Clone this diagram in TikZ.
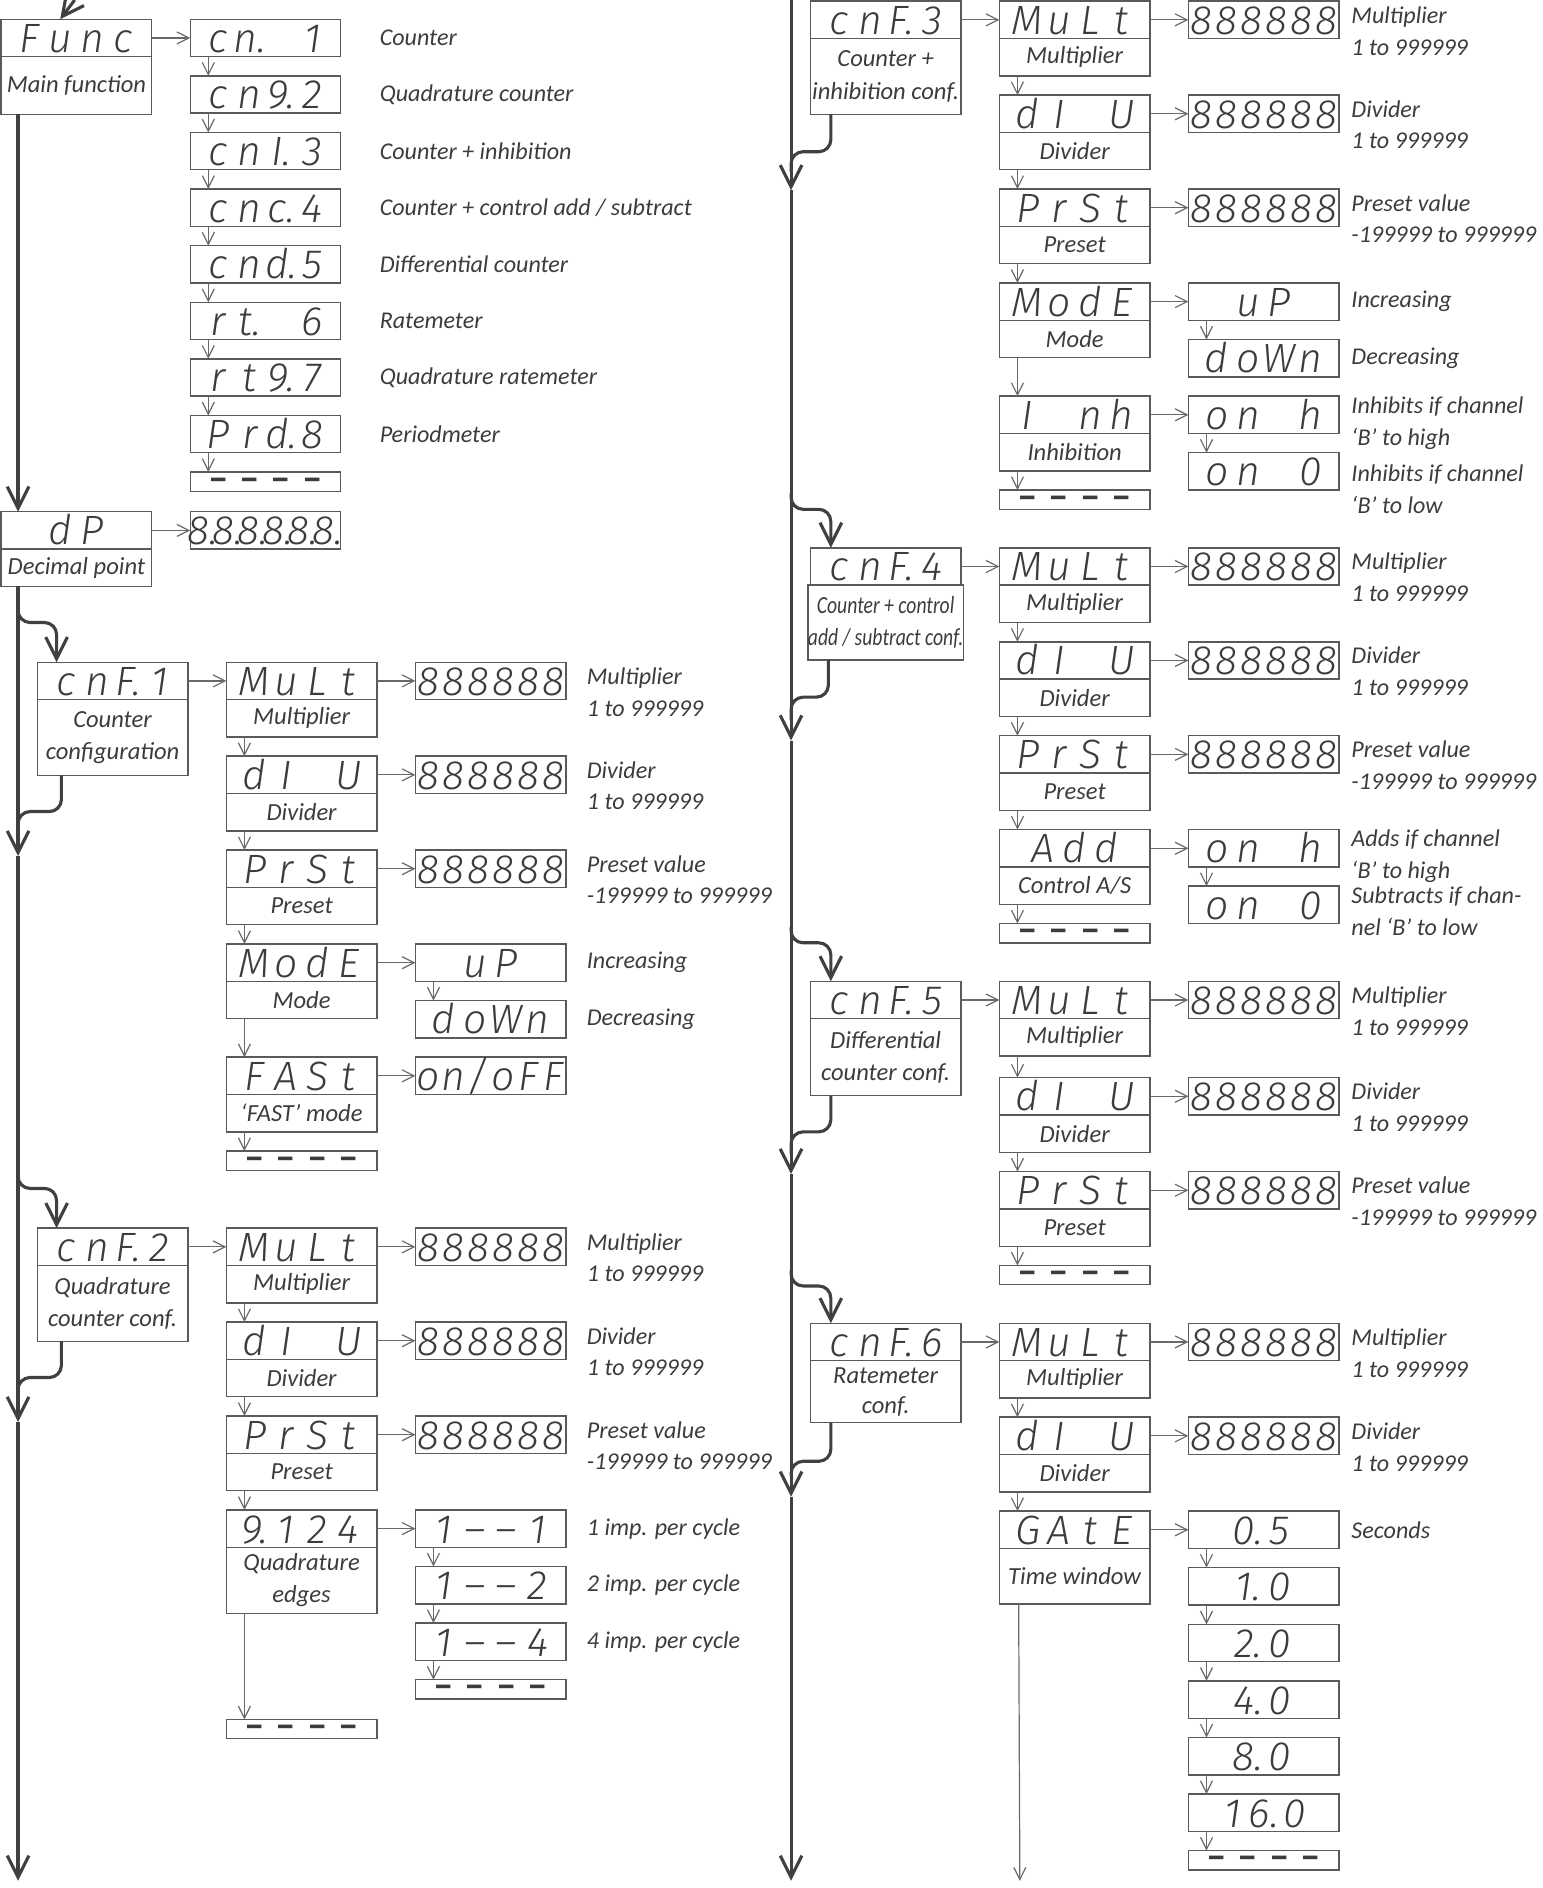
\documentclass[tikz,border=0pt]{standalone}
\usepackage{fontspec}
\usetikzlibrary{positioning, arrows.meta}
\newfontfamily\lblfont{Carlito}
\newfontfamily\lblnarrow[FakeStretch=0.8]{Carlito}
\newfontfamily\segfont{Fira Sans Light Italic}
\definecolor{boxline}{RGB}{90,90,90}
\definecolor{txtgray}{RGB}{60,60,60}
\definecolor{spinegray}{RGB}{64,64,64}
\definecolor{arrgray}{RGB}{105,105,105}
% display digits, one cell per character
\newcommand{\seg}[2][13pt]{\raisebox{0pt}[12pt][0pt]{\foreach \ch in {#2}{\makebox[#1][c]{\ch}}}}
\newcommand{\dashes}{\raisebox{-2.5pt}[3pt][0pt]{\lblfont\bfseries\foreach \ch in {1,2,3,4}{\makebox[13pt][c]{–}}}}

\begin{document}
\begin{tikzpicture}[x=0.5pt, y=-0.5pt,
    disp/.style={rectangle, draw=boxline, line width=0.6pt, outer sep=0pt, minimum width=62.5pt, minimum height=15.5pt, inner sep=0pt, text=txtgray, font=\segfont\fontsize{17}{17}\selectfont},
    lbl/.style={rectangle, draw=boxline, line width=0.6pt, outer sep=0pt, minimum width=62.5pt, minimum height=#1, inner sep=0pt, align=center, text=txtgray, font=\lblfont\itshape\fontsize{10.2}{13.4}\selectfont},
    lbl/.default=15.5pt,
    endbox/.style={disp, minimum height=8pt},
    desc/.style={inner sep=0pt, align=left, text=txtgray, font=\lblfont\itshape\fontsize{10}{13.2}\selectfont},
    desctwo/.style={desc, anchor=north west, yshift=-2pt},
    arr/.style={-{Straight Barb[length=5pt, width=5pt]}, arrgray, line width=0.5pt},
    spine/.style={-{Straight Barb[length=9pt, width=9pt]}, spinegray, line width=1.3pt},
    branch/.style={spine, rounded corners=5pt},
    merge/.style={spinegray, line width=1.3pt, rounded corners=5pt}
  ]
  \useasboundingbox (0,0) rectangle (1281,1568);

  % ---- main function
  \node[disp, anchor=north west] (func) at (1,16) {\seg{F,u,n,c}};
  \node[lbl=24pt, below=0pt of func] (funcl) {Main function};
  \node[disp, right=16pt of func] (fn1) {\seg{c,n.,~,1}};
  \node[disp, below=8pt of fn1] (fn2) {\seg{c,n,9.,2}};
  \node[disp, below=8pt of fn2] (fn3) {\seg{c,n,I.,3}};
  \node[disp, below=8pt of fn3] (fn4) {\seg{c,n,c.,4}};
  \node[disp, below=8pt of fn4] (fn5) {\seg{c,n,d.,5}};
  \node[disp, below=8pt of fn5] (fn6) {\seg{r,t.,~,6}};
  \node[disp, below=8pt of fn6] (fn7) {\seg{r,t,9.,7}};
  \node[disp, below=8pt of fn7] (fn8) {\seg{P,r,d.,8}};
  \node[endbox, below=8pt of fn8] (fnend) {\dashes};
  \node[desc, right=16pt of fn1] {Counter};
  \node[desc, right=16pt of fn2] {Quadrature counter};
  \node[desc, right=16pt of fn3] {Counter + inhibition};
  \node[desc, right=16pt of fn4] {Counter + control add / subtract};
  \node[desc, right=16pt of fn5] {Differential counter};
  \node[desc, right=16pt of fn6] {Ratemeter};
  \node[desc, right=16pt of fn7] {Quadrature ratemeter};
  \node[desc, right=16pt of fn8] {Periodmeter};

  % ---- decimal point
  \node[disp, anchor=north west] (dp) at (1,425) {\seg{~,d,P,~}};
  \node[lbl, below=0pt of dp] (dpl) {Decimal point};
  \node[disp, right=16pt of dp] (dpv) {\seg[10.4pt]{8.,8.,8.,8.,8.,8.}};

  % ---- cnF.1 counter
  \node[disp, anchor=north west] (c1) at (31,550) {\seg{c,n,F.,1}};
  \node[lbl=31.5pt, below=0pt of c1] (c1l) {Counter\\configuration};
  \node[disp, right=16pt of c1] (c1mul) {\seg{M,u,L,t}};
  \node[lbl, below=0pt of c1mul] (c1mull) {Multiplier};
  \node[disp, right=16pt of c1mul] (c1mulv) {\seg[10.4pt]{8,8,8,8,8,8}};
  \node[right=8.5pt of c1mulv.north east, desctwo] {Multiplier\\1 to 999999};
  \node[disp, below=8pt of c1mull] (c1div) {\seg{d,I,~,U}};
  \node[lbl, below=0pt of c1div] (c1divl) {Divider};
  \node[disp, right=16pt of c1div] (c1divv) {\seg[10.4pt]{8,8,8,8,8,8}};
  \node[right=8.5pt of c1divv.north east, desctwo] {Divider\\1 to 999999};
  \node[disp, below=8pt of c1divl] (c1pre) {\seg{P,r,S,t}};
  \node[lbl, below=0pt of c1pre] (c1prel) {Preset};
  \node[disp, right=16pt of c1pre] (c1prev) {\seg[10.4pt]{8,8,8,8,8,8}};
  \node[right=8.5pt of c1prev.north east, desctwo] {Preset value\\-199999 to 999999};
  \node[disp, below=8pt of c1prel] (c1mode) {\seg{M,o,d,E}};
  \node[lbl, below=0pt of c1mode] (c1model) {Mode};
  \node[disp, right=16pt of c1mode] (c1up) {\seg{~,u,P,~}};
  \node[disp, below=8pt of c1up] (c1down) {\seg{d,o,W,n}};
  \node[desc, right=8.5pt of c1up] {Increasing};
  \node[desc, right=8.5pt of c1down] {Decreasing};
  \node[disp, below=16pt of c1model] (c1fast) {\seg{F,A,S,t}};
  \node[lbl, below=0pt of c1fast] (c1fastl) {‘FAST’ mode};
  \node[disp, right=16pt of c1fast] (c1onoff) {\seg[10.4pt]{o,n,{/},o,F,F}};
  \node[endbox, below=8pt of c1fastl] (c1end) {\dashes};

  % ---- cnF.2 quadrature counter
  \node[disp, anchor=north west] (c2) at (31,1020) {\seg{c,n,F.,2}};
  \node[lbl=31.5pt, below=0pt of c2] (c2l) {Quadrature\\counter conf.};
  \node[disp, right=16pt of c2] (c2mul) {\seg{M,u,L,t}};
  \node[lbl, below=0pt of c2mul] (c2mull) {Multiplier};
  \node[disp, right=16pt of c2mul] (c2mulv) {\seg[10.4pt]{8,8,8,8,8,8}};
  \node[right=8.5pt of c2mulv.north east, desctwo] {Multiplier\\1 to 999999};
  \node[disp, below=8pt of c2mull] (c2div) {\seg{d,I,~,U}};
  \node[lbl, below=0pt of c2div] (c2divl) {Divider};
  \node[disp, right=16pt of c2div] (c2divv) {\seg[10.4pt]{8,8,8,8,8,8}};
  \node[right=8.5pt of c2divv.north east, desctwo] {Divider\\1 to 999999};
  \node[disp, below=8pt of c2divl] (c2pre) {\seg{P,r,S,t}};
  \node[lbl, below=0pt of c2pre] (c2prel) {Preset};
  \node[disp, right=16pt of c2pre] (c2prev) {\seg[10.4pt]{8,8,8,8,8,8}};
  \node[right=8.5pt of c2prev.north east, desctwo] {Preset value\\-199999 to 999999};
  \node[disp, below=8pt of c2prel] (c2edge) {\seg{9.,1,2,4}};
  \node[lbl=27.5pt, below=0pt of c2edge] (c2edgel) {Quadrature\\edges};
  \node[disp, right=16pt of c2edge] (c2e1) {\seg{1,–,–,1}};
  \node[disp, below=8pt of c2e1] (c2e2) {\seg{1,–,–,2}};
  \node[disp, below=8pt of c2e2] (c2e4) {\seg{1,–,–,4}};
  \node[endbox, below=8pt of c2e4] (c2eend) {\dashes};
  \node[desc, right=8.5pt of c2e1] {1 imp. per cycle};
  \node[desc, right=8.5pt of c2e2] {2 imp. per cycle};
  \node[desc, right=8.5pt of c2e4] {4 imp. per cycle};
  \node[endbox, below=44pt of c2edgel] (c2end) {\dashes};

  % ---- cnF.3 counter + inhibition
  \node[disp, anchor=north west] (c3) at (673,1) {\seg{c,n,F.,3}};
  \node[lbl=31.5pt, below=0pt of c3] (c3l) {Counter +\\inhibition conf.};
  \node[disp, right=16pt of c3] (c3mul) {\seg{M,u,L,t}};
  \node[lbl, below=0pt of c3mul] (c3mull) {Multiplier};
  \node[disp, right=16pt of c3mul] (c3mulv) {\seg[10.4pt]{8,8,8,8,8,8}};
  \node[right=5pt of c3mulv.north east, desctwo] {Multiplier\\1 to 999999};
  \node[disp, below=8pt of c3mull] (c3div) {\seg{d,I,~,U}};
  \node[lbl, below=0pt of c3div] (c3divl) {Divider};
  \node[disp, right=16pt of c3div] (c3divv) {\seg[10.4pt]{8,8,8,8,8,8}};
  \node[right=5pt of c3divv.north east, desctwo] {Divider\\1 to 999999};
  \node[disp, below=8pt of c3divl] (c3pre) {\seg{P,r,S,t}};
  \node[lbl, below=0pt of c3pre] (c3prel) {Preset};
  \node[disp, right=16pt of c3pre] (c3prev) {\seg[10.4pt]{8,8,8,8,8,8}};
  \node[right=5pt of c3prev.north east, desctwo] {Preset value\\-199999 to 999999};
  \node[disp, below=8pt of c3prel] (c3mode) {\seg{M,o,d,E}};
  \node[lbl, below=0pt of c3mode] (c3model) {Mode};
  \node[disp, right=16pt of c3mode] (c3up) {\seg{~,u,P,~}};
  \node[disp, below=8pt of c3up] (c3down) {\seg{d,o,W,n}};
  \node[desc, right=5pt of c3up] {Increasing};
  \node[desc, right=5pt of c3down] {Decreasing};
  \node[disp, below=16pt of c3model] (c3inh) {\seg{I,~,n,h}};
  \node[lbl, below=0pt of c3inh] (c3inhl) {Inhibition};
  \node[disp, right=16pt of c3inh] (c3onh) {\seg{o,n,~,h}};
  \node[disp, below=8pt of c3onh] (c3on0) {\seg{o,n,~,0}};
  \node[right=5pt of c3onh.north east, desctwo, yshift=2pt] {Inhibits if channel\\‘B’ to high};
  \node[right=5pt of c3on0.north east, desctwo, yshift=-3pt] {Inhibits if channel\\‘B’ to low};
  \node[endbox, below=8pt of c3inhl] (c3end) {\dashes};

  % ---- cnF.4 counter + control add / subtract
  \node[disp, anchor=north west] (c4) at (673,455) {\seg{c,n,F.,4}};
  \node[lbl=31pt, below=0pt of c4, font=\lblnarrow\itshape\fontsize{10.2}{13.4}\selectfont] (c4l) {Counter + control\\add / subtract conf.};
  \node[disp, right=16pt of c4] (c4mul) {\seg{M,u,L,t}};
  \node[lbl, below=0pt of c4mul] (c4mull) {Multiplier};
  \node[disp, right=16pt of c4mul] (c4mulv) {\seg[10.4pt]{8,8,8,8,8,8}};
  \node[right=5pt of c4mulv.north east, desctwo] {Multiplier\\1 to 999999};
  \node[disp, below=8pt of c4mull] (c4div) {\seg{d,I,~,U}};
  \node[lbl, below=0pt of c4div] (c4divl) {Divider};
  \node[disp, right=16pt of c4div] (c4divv) {\seg[10.4pt]{8,8,8,8,8,8}};
  \node[right=5pt of c4divv.north east, desctwo] {Divider\\1 to 999999};
  \node[disp, below=8pt of c4divl] (c4pre) {\seg{P,r,S,t}};
  \node[lbl, below=0pt of c4pre] (c4prel) {Preset};
  \node[disp, right=16pt of c4pre] (c4prev) {\seg[10.4pt]{8,8,8,8,8,8}};
  \node[right=5pt of c4prev.north east, desctwo] {Preset value\\-199999 to 999999};
  \node[disp, below=8pt of c4prel] (c4add) {\seg{A,d,d}};
  \node[lbl, below=0pt of c4add] (c4addl) {Control A/S};
  \node[disp, right=16pt of c4add] (c4onh) {\seg{o,n,~,h}};
  \node[disp, below=8pt of c4onh] (c4on0) {\seg{o,n,~,0}};
  \node[right=5pt of c4onh.north east, desctwo, yshift=2pt] {Adds if channel\\‘B’ to high};
  \node[right=5pt of c4on0.north east, desctwo, yshift=2pt] {Subtracts if chan-\\nel ‘B’ to low};
  \node[endbox, below=8pt of c4addl] (c4end) {\dashes};

  % ---- cnF.5 differential counter
  \node[disp, anchor=north west] (c5) at (673,815) {\seg{c,n,F.,5}};
  \node[lbl=32pt, below=0pt of c5] (c5l) {Differential\\counter conf.};
  \node[disp, right=16pt of c5] (c5mul) {\seg{M,u,L,t}};
  \node[lbl, below=0pt of c5mul] (c5mull) {Multiplier};
  \node[disp, right=16pt of c5mul] (c5mulv) {\seg[10.4pt]{8,8,8,8,8,8}};
  \node[right=5pt of c5mulv.north east, desctwo] {Multiplier\\1 to 999999};
  \node[disp, below=9pt of c5mull] (c5div) {\seg{d,I,~,U}};
  \node[lbl, below=0pt of c5div] (c5divl) {Divider};
  \node[disp, right=16pt of c5div] (c5divv) {\seg[10.4pt]{8,8,8,8,8,8}};
  \node[right=5pt of c5divv.north east, desctwo] {Divider\\1 to 999999};
  \node[disp, below=8pt of c5divl] (c5pre) {\seg{P,r,S,t}};
  \node[lbl, below=0pt of c5pre] (c5prel) {Preset};
  \node[disp, right=16pt of c5pre] (c5prev) {\seg[10.4pt]{8,8,8,8,8,8}};
  \node[right=5pt of c5prev.north east, desctwo] {Preset value\\-199999 to 999999};
  \node[endbox, below=8pt of c5prel] (c5end) {\dashes};

  % ---- cnF.6 ratemeter
  \node[disp, anchor=north west] (c6) at (673,1099) {\seg{c,n,F.,6}};
  \node[lbl=23pt, below=0pt of c6] (c6l) {\raisebox{-3pt}{\begin{tabular}{@{}c@{}}Ratemeter\\[-1pt]conf.\end{tabular}}};
  \node[disp, right=16pt of c6] (c6mul) {\seg{M,u,L,t}};
  \node[lbl, below=0pt of c6mul] (c6mull) {Multiplier};
  \node[disp, right=16pt of c6mul] (c6mulv) {\seg[10.4pt]{8,8,8,8,8,8}};
  \node[right=5pt of c6mulv.north east, desctwo] {Multiplier\\1 to 999999};
  \node[disp, below=8pt of c6mull] (c6div) {\seg{d,I,~,U}};
  \node[lbl, below=0pt of c6div] (c6divl) {Divider};
  \node[disp, right=16pt of c6div] (c6divv) {\seg[10.4pt]{8,8,8,8,8,8}};
  \node[right=5pt of c6divv.north east, desctwo] {Divider\\1 to 999999};
  \node[disp, below=8pt of c6divl] (c6gate) {\seg{G,A,t,E}};
  \node[lbl=23pt, below=0pt of c6gate] (c6gatel) {Time window};
  \node[disp, right=16pt of c6gate] (g05) {\seg{0.,5}};
  \node[disp, below=8pt of g05] (g10) {\seg{1.,0}};
  \node[disp, below=8pt of g10] (g20) {\seg{2.,0}};
  \node[disp, below=8pt of g20] (g40) {\seg{4.,0}};
  \node[disp, below=8pt of g40] (g80) {\seg{8.,0}};
  \node[disp, below=8pt of g80] (g160) {\seg{1,6.,0}};
  \node[endbox, below=8pt of g160] (gend) {\dashes};
  \node[desc, right=5pt of g05] {Seconds};

  % ---- thin arrows
  \foreach \a/\b in {func/fn1, dp/dpv, c1/c1mul, c1mul/c1mulv, c1div/c1divv, c1pre/c1prev, c1mode/c1up, c1fast/c1onoff,
      c2/c2mul, c2mul/c2mulv, c2div/c2divv, c2pre/c2prev, c2edge/c2e1,
      c3/c3mul, c3mul/c3mulv, c3div/c3divv, c3pre/c3prev, c3mode/c3up, c3inh/c3onh,
      c4/c4mul, c4mul/c4mulv, c4div/c4divv, c4pre/c4prev, c4add/c4onh,
      c5/c5mul, c5mul/c5mulv, c5div/c5divv, c5pre/c5prev,
      c6/c6mul, c6mul/c6mulv, c6div/c6divv, c6gate/g05}
    \draw[arr] (\a) -- (\b);
  \foreach \a/\b in {fn1/fn2, fn2/fn3, fn3/fn4, fn4/fn5, fn5/fn6, fn6/fn7, fn7/fn8, fn8/fnend,
      c1mull/c1div, c1divl/c1pre, c1prel/c1mode, c1model/c1fast, c1fastl/c1end, c1up/c1down,
      c2mull/c2div, c2divl/c2pre, c2prel/c2edge, c2edgel/c2end, c2e1/c2e2, c2e2/c2e4, c2e4/c2eend,
      c3mull/c3div, c3divl/c3pre, c3prel/c3mode, c3model/c3inh, c3inhl/c3end, c3up/c3down, c3onh/c3on0,
      c4mull/c4div, c4divl/c4pre, c4prel/c4add, c4addl/c4end, c4onh/c4on0,
      c5mull/c5div, c5divl/c5pre, c5prel/c5end,
      c6mull/c6div, c6divl/c6gate, g05/g10, g10/g20, g20/g40, g40/g80, g80/g160, g160/gend}
    \draw[arr] ([xshift=7.5pt]\a.south west) -- ([xshift=7.5pt]\b.north west);
  \coordinate (gout) at (847,1562);
  \draw[arr] ([xshift=8pt]c6gatel.south west) -- (gout);

  % ---- left spine
  \coordinate (lin) at (62,0);
  \coordinate (lb1) at (15,503);
  \coordinate (lr1) at (15,692);
  \coordinate (ls1) at (15,711);
  \coordinate (lb2) at (15,973);
  \coordinate (lr2) at (15,1162);
  \coordinate (ls2) at (15,1181);
  \coordinate (ls3) at (15,1562);
  \draw[spine] (lin) -- ([xshift=24.5pt]func.north west);
  \draw[spine] ([xshift=7pt]funcl.south west) -- ([xshift=7pt]dp.north west);
  \draw[spine] ([xshift=7pt]dpl.south west) -- (ls1);
  \draw[spine] (ls1) -- (ls2);
  \draw[spine] (ls2) -- (ls3);
  \draw[branch] (lb1) -- ++(0,14) -| ([xshift=8pt]c1.north west);
  \draw[merge] ([xshift=10pt]c1l.south west) -- ++(0,30) -| (lr1);
  \draw[branch] (lb2) -- ++(0,14) -| ([xshift=8pt]c2.north west);
  \draw[merge] ([xshift=10pt]c2l.south west) -- ++(0,30) -| (lr2);

  % ---- right spine
  \coordinate (rs0) at (657,0);
  \coordinate (rr3) at (657,143);
  \coordinate (rs1) at (657,158);
  \coordinate (rb4) at (657,410);
  \coordinate (rr4) at (657,598);
  \coordinate (rs2) at (657,615);
  \coordinate (rb5) at (657,770);
  \coordinate (rr5) at (657,958);
  \coordinate (rs3) at (657,975);
  \coordinate (rb6) at (657,1055);
  \coordinate (rr6) at (657,1226);
  \coordinate (rs4) at (657,1243);
  \coordinate (rs5) at (657,1562);
  \draw[spine] (rs0) -- (rs1);
  \draw[spine] (rs1) -- (rs2);
  \draw[spine] (rs2) -- (rs3);
  \draw[spine] (rs3) -- (rs4);
  \draw[spine] (rs4) -- (rs5);
  \draw[merge] ([xshift=8.5pt]c3l.south west) -- ++(0,31) -| (rr3);
  \draw[branch] (rb4) -- ++(0,13) -| ([xshift=8.5pt]c4.north west);
  \draw[merge] ([xshift=8.5pt]c4l.south west) -- ++(0,31) -| (rr4);
  \draw[branch] (rb5) -- ++(0,13) -| ([xshift=8.5pt]c5.north west);
  \draw[merge] ([xshift=8.5pt]c5l.south west) -- ++(0,30) -| (rr5);
  \draw[branch] (rb6) -- ++(0,13) -| ([xshift=8.5pt]c6.north west);
  \draw[merge] ([xshift=8.5pt]c6l.south west) -- ++(0,32) -| (rr6);
\end{tikzpicture}
\end{document}
